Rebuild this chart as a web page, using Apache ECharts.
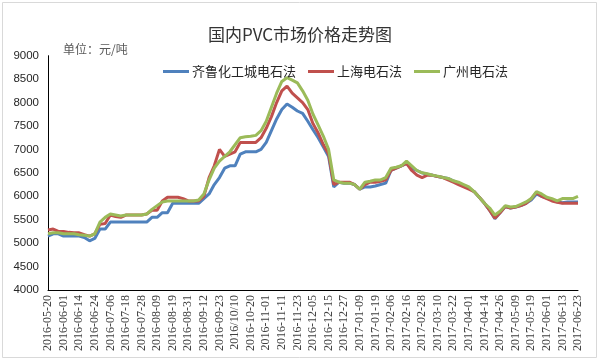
<!DOCTYPE html>
<html><head><meta charset="utf-8">
<script src="https://cdn.jsdelivr.net/npm/echarts@6/dist/echarts.min.js"></script>
<style>html,body{margin:0;padding:0;background:#fff}#c{width:600px;height:361px}</style>
</head><body><div id="c"></div>
<script>
var tickLabels = ["2016-05-20","2016-06-01","2016-06-14","2016-06-24","2016-07-06","2016-07-18","2016-07-28","2016-08-09","2016-08-19","2016-08-31","2016-09-12","2016-09-23","2016/10/10","2016-10-20","2016-11-01","2016-11-11","2016-11-23","2016-12-05","2016-12-15","2016-12-27","2017-01-09","2017-01-19","2017-02-06","2017-02-16","2017-02-28","2017-03-10","2017-03-22","2017-04-01","2017-04-14","2017-04-26","2017-05-09","2017-05-19","2017-06-01","2017-06-13","2017-06-23"];
var seriesNames = ["齐鲁化工城电石法","上海电石法","广州电石法"];
var qilu = [5150,5200,5200,5150,5150,5150,5150,5120,5050,5100,5300,5300,5450,5450,5450,5450,5450,5450,5450,5450,5550,5550,5650,5650,5850,5850,5850,5850,5850,5850,5950,6050,6250,6400,6600,6650,6650,6900,6950,6950,6950,7000,7150,7400,7650,7850,7970,7900,7820,7770,7600,7420,7250,7050,6850,6200,6300,6280,6280,6250,6150,6200,6200,6220,6250,6280,6550,6600,6650,6700,6600,6550,6500,6470,6450,6420,6400,6380,6330,6280,6230,6180,6100,5980,5850,5700,5520,5650,5780,5750,5770,5800,5850,5920,6050,6000,5960,5920,5880,5860,5880,5880,5880];
var shanghai = [5280,5300,5250,5250,5230,5220,5220,5180,5150,5200,5400,5420,5600,5570,5550,5600,5600,5600,5600,5620,5700,5700,5900,5980,5980,5980,5950,5900,5900,5900,6000,6400,6650,7000,6850,6900,6950,7150,7150,7150,7150,7250,7450,7700,8000,8250,8350,8200,8100,8000,7850,7550,7350,7100,6900,6250,6300,6300,6300,6250,6150,6250,6300,6300,6320,6350,6550,6600,6650,6700,6550,6450,6400,6450,6450,6420,6400,6350,6300,6250,6200,6150,6100,5980,5850,5700,5530,5650,5780,5750,5770,5800,5850,5950,6080,6000,5950,5900,5870,5850,5850,5850,5850];
var guangzhou = [5200,5220,5220,5200,5200,5200,5180,5170,5150,5200,5450,5550,5620,5600,5580,5600,5600,5600,5600,5620,5720,5800,5880,5900,5900,5900,5900,5900,5900,5920,6050,6350,6600,6750,6850,6950,7100,7250,7270,7280,7300,7400,7600,7900,8200,8450,8530,8480,8420,8250,8050,7750,7520,7280,7000,6350,6300,6280,6280,6250,6150,6300,6320,6350,6350,6400,6600,6620,6650,6750,6650,6550,6500,6480,6450,6430,6400,6380,6330,6300,6250,6200,6100,5980,5850,5750,5600,5680,5800,5770,5780,5830,5880,5950,6100,6050,5980,5950,5900,5950,5950,5950,6000];
var colors = ["#4F81BD","#C0504D","#9BBB59"];

function parseD(s){var p=s.split(/[-\/]/);return Date.UTC(+p[0],+p[1]-1,+p[2]);}
function fmt(t){var d=new Date(t);var m=d.getUTCMonth()+1,dd=d.getUTCDate();return d.getUTCFullYear()+"-"+(m<10?"0":"")+m+"-"+(dd<10?"0":"")+dd;}
var categories=[];
for(var i=0;i<tickLabels.length;i++){
  categories.push(tickLabels[i]);
  if(i<tickLabels.length-1){
    var a=parseD(tickLabels[i]),b=parseD(tickLabels[i+1]),day=86400000;
    categories.push(fmt(a+Math.round((b-a)/3/day)*day));
    categories.push(fmt(a+Math.round(2*(b-a)/3/day)*day));
  }
}
var chart=echarts.init(document.getElementById('c'),null,{renderer:'canvas'});
var data=[qilu,shanghai,guangzhou];
chart.setOption({
  animation:false,
  backgroundColor:'#fff',
  graphic:[
    {type:'rect',shape:{x:2.5,y:2.5,width:594,height:355},style:{fill:'none',stroke:'#d9d9d9',lineWidth:1},silent:true},
    {type:'text',left:63,top:43,style:{text:'单位：元/吨',fill:'#595959',font:'12px "Noto Sans CJK SC"'}}
  ],
  title:{text:'国内PVC市场价格走势图',left:'center',top:21,textStyle:{fontFamily:'Noto Sans CJK SC',fontSize:17,fontWeight:'normal',color:'#333'}},
  legend:{top:60,left:158,itemWidth:26,itemHeight:3,itemGap:12,icon:'rect',
    textStyle:{fontFamily:'Noto Sans CJK SC',fontSize:13,color:'#262626',padding:[0,0,0,-2]},
    data:seriesNames},
  grid:{left:48,right:22,top:55.7,bottom:71},
  xAxis:{type:'category',boundaryGap:false,data:categories,
    axisLine:{lineStyle:{color:'#000',width:1}},axisTick:{show:false},
    axisLabel:{interval:2,rotate:90,fontFamily:'Liberation Serif',fontSize:12,color:'#404040',margin:5}},
  yAxis:{type:'value',min:4000,max:9000,interval:500,
    axisLine:{show:true,lineStyle:{color:'#000',width:1}},axisTick:{show:false},
    splitLine:{show:false},
    axisLabel:{fontFamily:'Liberation Sans',fontSize:11.5,color:'#262626',margin:9,formatter:function(v){return String(v);}}},
  series:seriesNames.map(function(n,k){return {name:n,type:'line',data:data[k],symbol:'none',smooth:false,
    lineStyle:{width:3,color:colors[k]},itemStyle:{color:colors[k]}};})
});
</script></body></html>
